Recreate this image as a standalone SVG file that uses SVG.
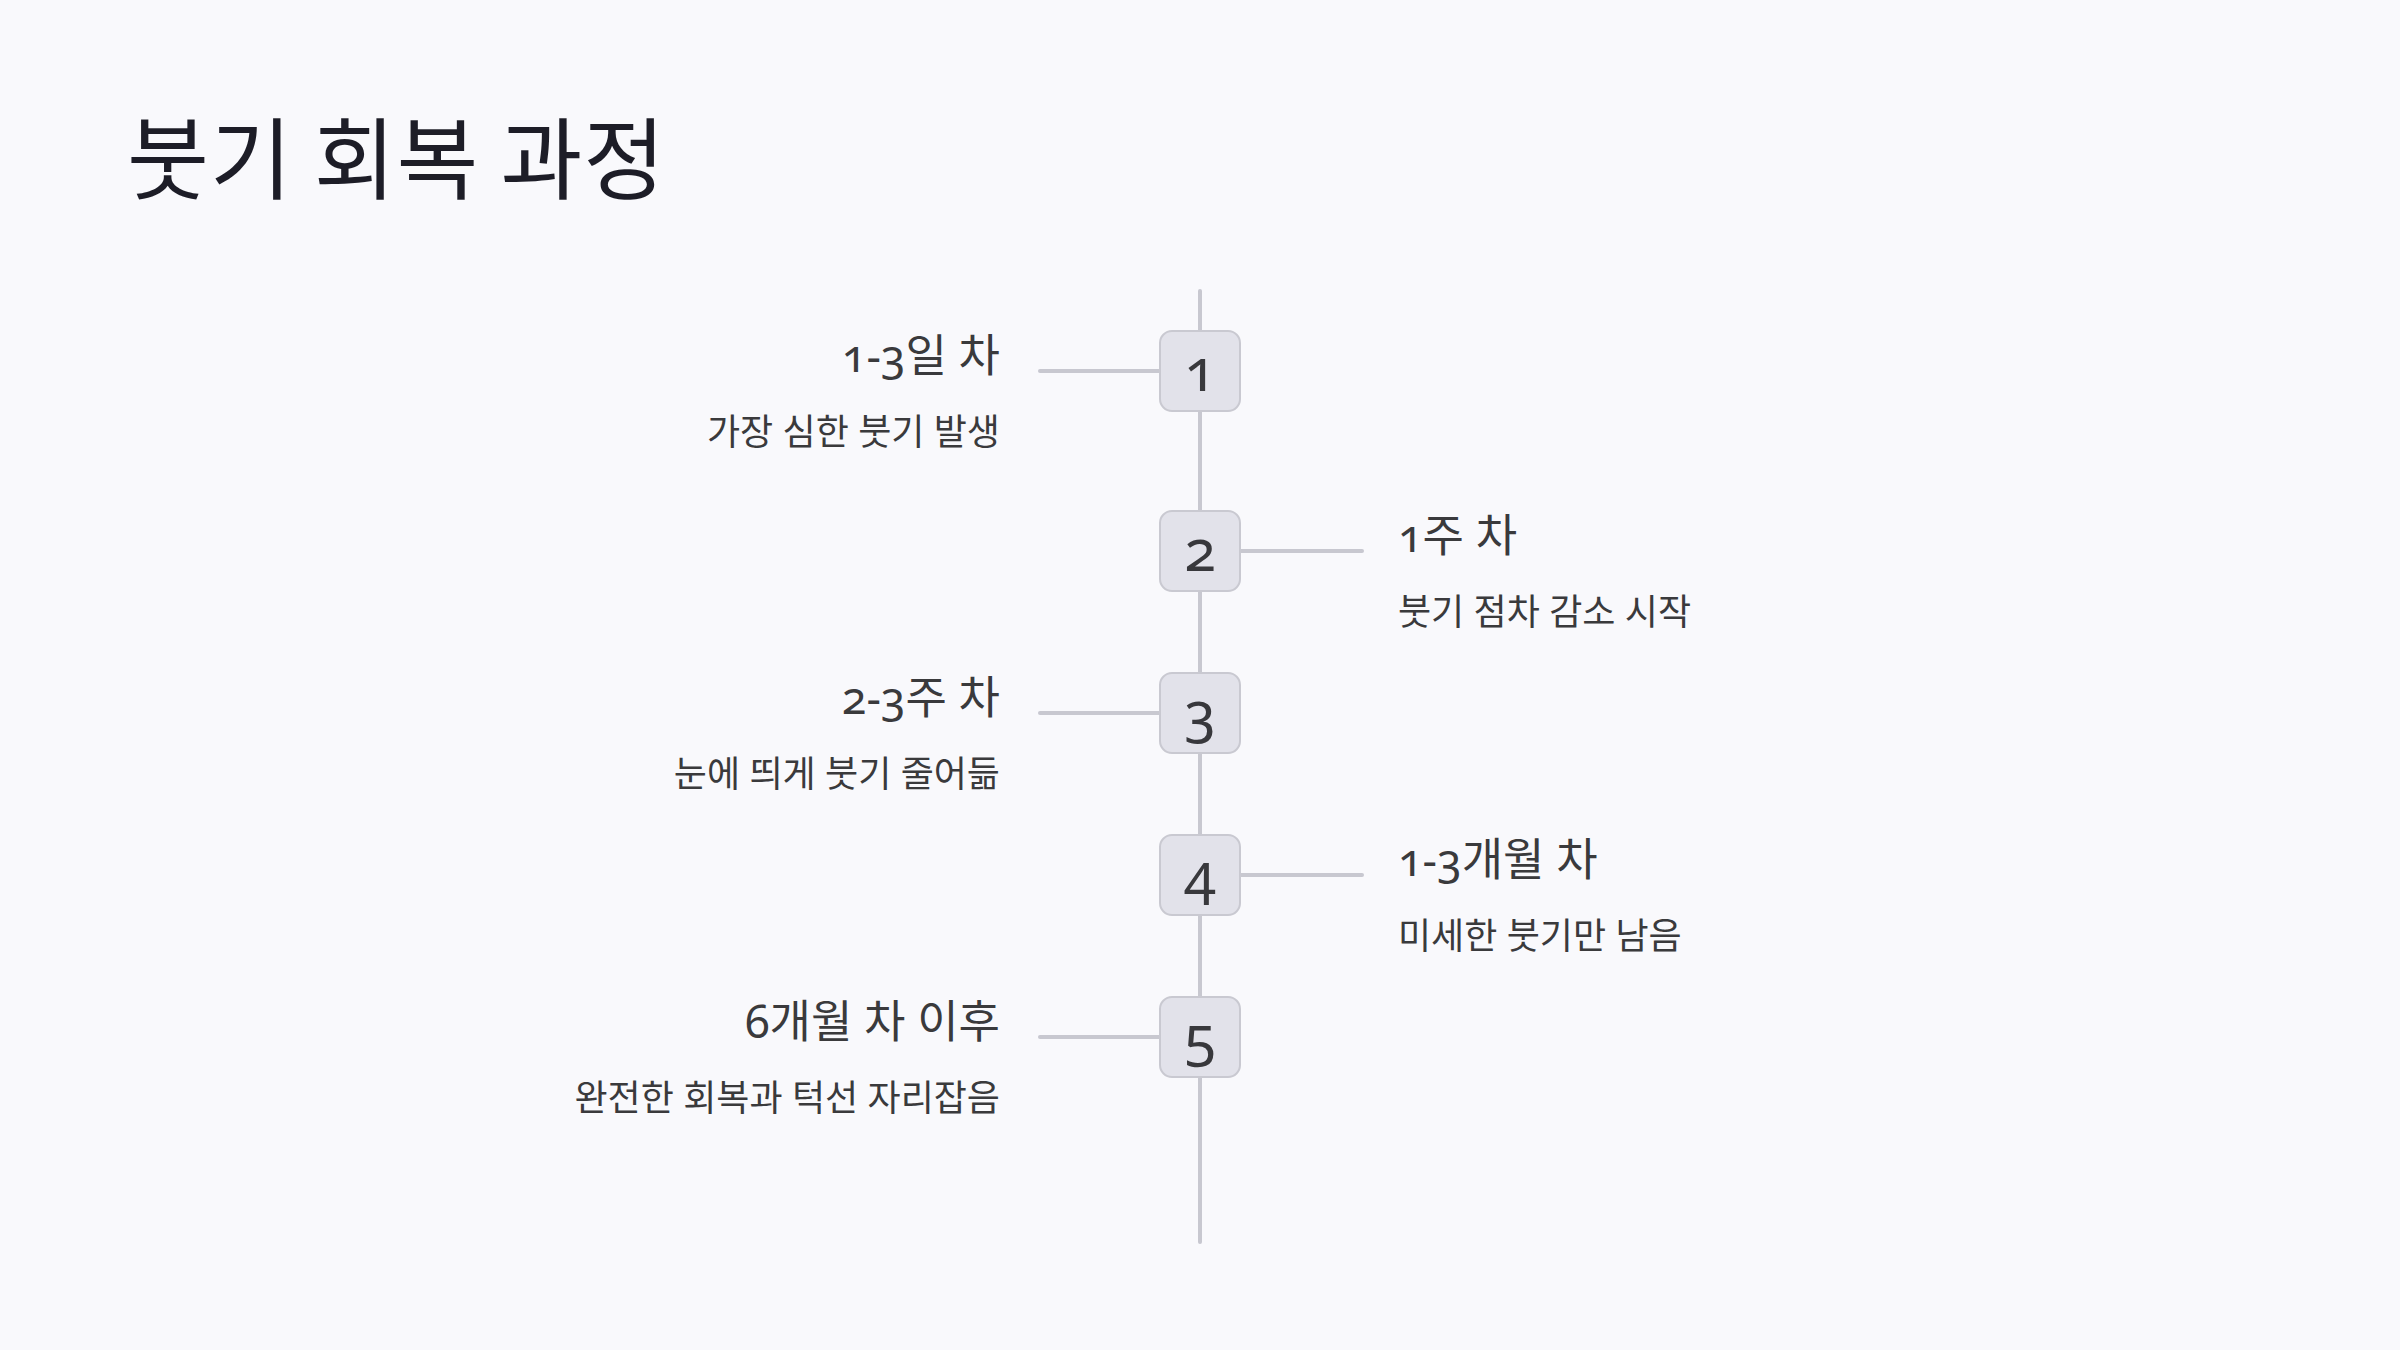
<svg xmlns="http://www.w3.org/2000/svg" width="2400" height="1350" viewBox="0 0 2400 1350">
<style>
text { font-family: "Noto Sans", "Noto Sans CJK KR", sans-serif; font-variant-numeric: oldstyle-nums; font-feature-settings: "onum" 1; }
.title { font-size: 89px; fill: #1d1d27; font-family: "Noto Sans CJK KR", sans-serif; letter-spacing: 1px; }
.head { font-size: 45px; fill: #3a3a3c; }
.sub { font-size: 36px; fill: #3a3a3c; }
.num { font-size: 58px; fill: #38383c; text-anchor: middle; }
.box { fill: #e2e2ea; stroke: #c9c9d1; stroke-width: 2; }
.conn { stroke: #c8c8d0; stroke-width: 4; stroke-linecap: round; fill: none; }
.l { text-anchor: end; }
</style>
<rect width="2400" height="1350" fill="#f9f9fc"/>
<text class="title" x="127" y="192">붓기 회복 과정</text>
<g id="connectors">
<line class="conn" x1="1200" y1="291" x2="1200" y2="1242"/>
<line class="conn" x1="1040" y1="371" x2="1160" y2="371"/>
<line class="conn" x1="1240" y1="551" x2="1362" y2="551"/>
<line class="conn" x1="1040" y1="713" x2="1160" y2="713"/>
<line class="conn" x1="1240" y1="875" x2="1362" y2="875"/>
<line class="conn" x1="1040" y1="1037" x2="1160" y2="1037"/>
</g>
<g id="node1">
<rect class="box" x="1160" y="331" width="80" height="80" rx="12"/>
<text class="num" x="1200" y="391">1</text>
<text class="head l" x="1000" y="372">1-3일 차</text>
<text class="sub l" x="1000" y="445">가장 심한 붓기 발생</text>
</g>
<g id="node2">
<rect class="box" x="1160" y="511" width="80" height="80" rx="12"/>
<text class="num" x="1200" y="571">2</text>
<text class="head" x="1398" y="552">1주 차</text>
<text class="sub" x="1398" y="625">붓기 점차 감소 시작</text>
</g>
<g id="node3">
<rect class="box" x="1160" y="673" width="80" height="80" rx="12"/>
<text class="num" x="1200" y="733">3</text>
<text class="head l" x="1000" y="714">2-3주 차</text>
<text class="sub l" x="1000" y="787">눈에 띄게 붓기 줄어듦</text>
</g>
<g id="node4">
<rect class="box" x="1160" y="835" width="80" height="80" rx="12"/>
<text class="num" x="1200" y="895">4</text>
<text class="head" x="1398" y="876">1-3개월 차</text>
<text class="sub" x="1398" y="949">미세한 붓기만 남음</text>
</g>
<g id="node5">
<rect class="box" x="1160" y="997" width="80" height="80" rx="12"/>
<text class="num" x="1200" y="1057">5</text>
<text class="head l" x="1000" y="1038">6개월 차 이후</text>
<text class="sub l" x="1000" y="1111">완전한 회복과 턱선 자리잡음</text>
</g>
</svg>
